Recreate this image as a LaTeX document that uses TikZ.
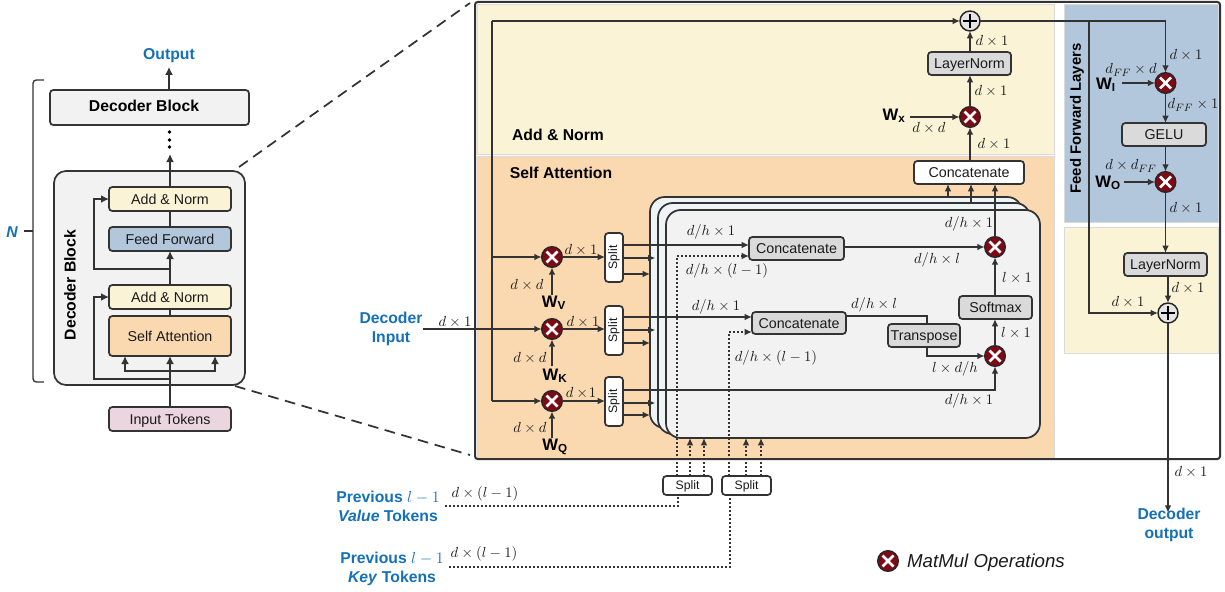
\documentclass[tikz,border=0pt]{standalone}
\usepackage[no-math]{fontspec}
\usepackage{graphicx}
\setmainfont{Liberation Sans}
\usetikzlibrary{arrows.meta,calc}
\definecolor{dk}{HTML}{333333}
\definecolor{tx}{HTML}{1A1A1A}
\definecolor{bluet}{HTML}{1470B8}
\definecolor{yel}{HTML}{FBF3D6}
\definecolor{ora}{HTML}{FAD8B0}
\definecolor{blu}{HTML}{B2C6DC}
\definecolor{pnk}{HTML}{EBD6DF}
\definecolor{lgr}{HTML}{F2F2F2}
\definecolor{mgr}{HTML}{DADADA}
\definecolor{crd}{HTML}{EEF3F5}
\definecolor{mar}{HTML}{7D0A14}
\newcommand{\fsA}{\fontsize{10.7}{12.8}\selectfont}
\newcommand{\fsB}{\fontsize{11.8}{14.2}\selectfont\bfseries}
\newcommand{\fsC}{\fontsize{9.2}{11}\selectfont}
\newcommand{\fsM}{\fontsize{10.95}{13}\selectfont}
\newcommand{\bx}[7]{\node[#1,minimum width={(#5-#3)*0.75pt},minimum height={(#6-#4)*0.75pt}] (#2) at ({(#3+#5)/2},{(#4+#6)/2}) {#7};}
\newcommand{\ml}[4]{\node[mlab] (#1) at (#2,#3) {$#4$};}
\newcommand{\wt}[4]{\node[wlab] (#1) at (#2,#3) {\textbf{W\textsubscript{#4}}};}
\tikzset{
 box/.style={draw=dk,line width=1.3pt,rounded corners=2.5pt,inner sep=0pt,outer sep=0pt,text=tx,font=\fsA,text height=7.7pt,text depth=0pt},
 panel/.style={draw=mgr,line width=0.5pt,inner sep=0pt,outer sep=0pt},
 card/.style={draw=dk,line width=1.3pt,rounded corners=11pt,inner sep=0pt,outer sep=0pt},
 mul/.style={circle,draw=black!85,fill=mar,line width=1pt,minimum size=15.5pt,inner sep=0pt,outer sep=0pt,
   path picture={\draw[white,line width=2.1pt] ([shift={(-5.5,-5.5)}]path picture bounding box.center) -- ([shift={(5.5,5.5)}]path picture bounding box.center);
     \draw[white,line width=2.1pt] ([shift={(-5.5,5.5)}]path picture bounding box.center) -- ([shift={(5.5,-5.5)}]path picture bounding box.center);}},
 plusn/.style={circle,draw=black!85,fill=mgr!70,line width=1.1pt,minimum size=15pt,inner sep=0pt,outer sep=0pt,
   path picture={\draw[black,line width=1.2pt] ([shift={(-7,0)}]path picture bounding box.center) -- ([shift={(7,0)}]path picture bounding box.center);
     \draw[black,line width=1.2pt] ([shift={(0,-7)}]path picture bounding box.center) -- ([shift={(0,7)}]path picture bounding box.center);}},
 mlab/.style={inner sep=0pt,text=tx,font=\fsM},
 wlab/.style={inner sep=0pt,text=black,font=\fontsize{12.5}{15}\selectfont},
 blab/.style={inner sep=0pt,text=bluet,font=\fsB,align=center},
 head/.style={inner sep=0pt,text=black,font=\fsB},
 ln/.style={draw=dk,line width=1.3pt},
 wr/.style={ln,-{Latex[length=5.5pt,width=5pt]}},
 tl/.style={draw=dk,line width=1.9pt},
 tr/.style={tl,-{Latex[length=6pt,width=6pt]}},
 dl/.style={draw=dk,line width=1.5pt,dash pattern=on 1.5pt off 1.5pt},
 dr/.style={dl,-{Latex[length=5.5pt,width=5pt]}},
 zoomline/.style={draw=dk,line width=1.3pt,dash pattern=on 8pt off 5pt},
}
\begin{document}
\begin{tikzpicture}[x=0.75pt,y=-0.75pt]
\useasboundingbox (0,0) rectangle (1225,592);
% ---------- left column
\node[blab] (out) at (169,55.5) {Output};
\bx{box,fill=lgr}{dtop}{50}{90}{249}{125}{}
\node[head] (dtl) at (144,105.5) {Decoder Block};
\bx{card,fill=lgr,rounded corners=9pt}{blk}{54}{171}{245}{385}{}
\node[head,rotate=90] (blkl) at (70,285) {Decoder Block};
\bx{box,fill=yel}{ana}{109}{187}{231}{211}{Add \& Norm}
\bx{box,fill=blu}{ffw}{109}{227}{231}{251}{Feed Forward}
\bx{box,fill=yel}{anb}{109}{285}{231}{309}{Add \& Norm}
\bx{box,fill=ora}{sat}{109}{316}{231}{356}{Self Attention}
\bx{box,fill=pnk}{inp}{109}{407}{231}{431}{Input Tokens}
\node[circle,fill=black,inner sep=0pt,minimum size=2.8pt] (da) at (169.5,132) {};
\node[circle,fill=black,inner sep=0pt,minimum size=2.8pt] (db) at (169.5,140) {};
\node[circle,fill=black,inner sep=0pt,minimum size=2.8pt] (dc) at (169.5,147) {};
\coordinate (dup) at (170,154);
\draw[tr] (inp.north) -- (sat.south);
\draw[tl] (sat.north) -- (anb.south);
\draw[tr] (anb.north) -- (ffw.south);
\draw[tl] (ffw.north) -- (ana.south);
\draw[tr] (ana.north) -- (dup);
\draw[tr] (dtop.north -| out.south) -- ([yshift=-3pt]out.south);
\draw[tr] (inp.north |- 0,379) -- (94,379) |- (anb.west);
\draw[tr] (inp.north |- 0,269) -- (94,269) |- (ana.west);
\draw[tr] (inp.north |- 0,371) -- (125,371) -- (sat.south -| 125,0);
\draw[tr] (inp.north |- 0,371) -- (215,371) -- (sat.south -| 215,0);
% bracket N
\node[inner sep=0pt,text=bluet,font=\fsB\itshape] (nn) at (12,232) {N};
\draw[line width=1pt,draw=dk,rounded corners=2.5pt] (44,80) -- (33,80) -- (33,382) -- (44,382);
\draw[line width=1pt,draw=dk] (24,231) -- (33,231);
% zoom lines
\coordinate (zua) at (239,167); \coordinate (zub) at (470,3);
\coordinate (zla) at (235,386); \coordinate (zlb) at (470,455);
\draw[zoomline] (zua) -- (zub);
\draw[zoomline] (zla) -- (zlb);
% ---------- main panels
\bx{panel,fill=yel}{pya}{477}{4}{1054}{154}{}
\bx{panel,fill=ora}{por}{477}{156}{1054}{458}{}
\bx{panel,fill=blu}{pbl}{1064}{4}{1218}{222}{}
\bx{panel,fill=yel}{pyb}{1064}{227}{1218}{353}{}
\bx{box,fill=none,rounded corners=2pt,line width=1.5pt}{mainb}{475}{2}{1220}{459}{}
\node[head] (hadd) at (558,135) {Add \& Norm};
\node[head] (hsel) at (561,172.5) {Self Attention};
\node[head,rotate=90,font=\fontsize{11.2}{13}\selectfont\bfseries] (hff) at (1077,118.5) {Feed Forward Layers};
% cards
\bx{card,fill=crd}{ca}{650}{197}{1022}{428}{}
\bx{card,fill=crd}{cb}{658}{203}{1030}{434}{}
\bx{card,fill=lgr}{cc}{666}{210}{1040}{438}{}
% mult
\node[mul] (mV) at (552,257) {};
\node[mul] (mK) at (552,329) {};
\node[mul] (mQ) at (552,401) {};
\node[mul] (mT) at (995,247) {};
\node[mul] (mL) at (995,356) {};
\node[mul] (mX) at (970,117) {};
\node[mul] (mI) at (1165.5,83) {};
\node[mul] (mO) at (1165.5,182) {};
\node[plusn] (pT) at (970,21) {};
\node[plusn] (pB) at (1168,313) {};
% boxes
\newcommand{\spl}{\rotatebox{90}{\fsC Split}}
\tikzset{boxr/.style={box,text height=,text depth=}}
\bx{boxr,fill=white}{sV}{605}{233}{623}{282}{\spl}
\bx{boxr,fill=white}{sK}{605}{306}{623}{355}{\spl}
\bx{boxr,fill=white}{sQ}{605}{377}{623}{426}{\spl}
\bx{box,fill=mgr}{cA}{749}{237}{844}{260}{Concatenate}
\bx{box,fill=mgr}{cB}{752}{312}{846}{334}{Concatenate}
\bx{box,fill=white}{cO}{914}{161}{1024}{184}{Concatenate}
\bx{box,fill=mgr}{sm}{959}{296}{1032}{319}{Softmax}
\bx{box,fill=mgr}{trp}{888}{324}{960}{347}{Transpose}
\bx{box,fill=mgr}{lnT}{928}{52}{1011}{75}{LayerNorm}
\bx{box,fill=mgr}{gel}{1122}{123}{1206}{146}{GELU}
\bx{box,fill=mgr}{lnR}{1124}{253}{1207}{276}{LayerNorm}
\bx{box,fill=white,font=\fsC,text height=6.6pt}{spA}{663}{476}{712}{495}{Split}
\bx{box,fill=white,font=\fsC,text height=6.6pt}{spB}{722}{476}{771}{495}{Split}
% W labels
\wt{wV}{554}{303}{V}
\wt{wK}{555}{376}{K}
\wt{wQ}{555}{447}{Q}
\wt{wX}{894}{116}{x}
\wt{wI}{1106}{85}{I}
\wt{wO}{1108}{183}{O}
% blue labels
\node[blab] (nIn) at (391,328.5) {Decoder\\Input};
\node[blab] (nOut) at (1169,524.5) {Decoder\\output};
\node[blab] (nVa) at (388,506) {Previous $l-1$\\\textit{Value} Tokens};
\node[blab] (nKe) at (392,568.5) {Previous $l-1$\\\textit{Key} Tokens};
% left wires
\coordinate (jT) at (492,21);
\draw[ln] (jT) -- (492,401);
\draw[wr] (jT) -- (pT.west);
\draw[wr] (492,257) -- (mV.west);
\draw[wr] (492,401) -- (mQ.west);
\draw[wr,line width=1.5pt] (nIn.east |- mK.west) -- (mK.west);
\draw[wr] (mV.east) -- (sV.west |- mV.east);
\draw[wr] (mK.east) -- (sK.west |- mK.east);
\draw[wr] (mQ.east) -- (sQ.west |- mQ.east);
\draw[wr,line width=1.5pt] (mV.south |- 0,295) -- (mV.south);
\draw[wr,line width=1.5pt] (mK.south |- 0,366) -- (mK.south);
\draw[wr,line width=1.5pt] (mQ.south |- 0,438) -- (mQ.south);
% split wires
\draw[wr] (sV.east |- 0,245) -- (cA.west |- 0,245);
\draw[wr] (sK.east |- 0,317) -- (cB.west |- 0,317);
\draw[wr,shorten >=2pt] (sV.east |- 0,258) -- (cb.west |- 0,258);
\draw[wr,shorten >=2pt] (sK.east |- 0,330) -- (cb.west |- 0,330);
\draw[wr,shorten >=2pt] (sQ.east |- 0,403) -- (cb.west |- 0,403);
\draw[wr] (sV.east |- 0,274) -- (ca.west |- 0,274);
\draw[wr] (sK.east |- 0,343) -- (ca.west |- 0,343);
\draw[wr] (sQ.east |- 0,415) -- (ca.west |- 0,415);
\draw[wr] (sQ.east |- 0,390) -| (mL.south);
% concat / softmax
\draw[wr] (cA.east |- mT.west) -- (mT.west);
\draw[ln] (cB.east |- 0,316) -- (927,316) -- (trp.north -| 927,0);
\draw[wr] (trp.south -| 927,0) -- (927,356) -- (mL.west);
\draw[wr] (mL.north) -- (sm.south -| mL.north);
\draw[wr] (sm.north -| mT.south) -- (mT.south);
\draw[wr] (mT.north) -- (cO.south -| mT.north);
\draw[wr] (ca.north -| 948,0) -- (cO.south -| 948,0);
\draw[wr] (cb.north -| 971,0) -- (cO.south -| 971,0);
% top column
\draw[wr] (cO.north -| mX.south) -- (mX.south);
\draw[wr] (mX.north) -- (lnT.south -| mX.north);
\draw[wr] (lnT.north -| pT.south) -- (pT.south);
\draw[wr] (mX.west -| 910,0) -- (mX.west);
% right column
\draw[wr] (pT.east) -| (mI.north);
\coordinate (jR) at (1089,21);
\draw[wr] (jR) |- (pB.west);
\draw[wr] (mI.south) -- (gel.north -| mI.south);
\draw[wr] (gel.south -| mO.north) -- (mO.north);
\draw[wr] (mO.south) -- (lnR.north -| mO.south);
\draw[wr] (lnR.south -| pB.north) -- (pB.north);
\draw[wr] (mI.west -| 1122,0) -- (mI.west);
\draw[wr] (mO.west -| 1124,0) -- (mO.west);
\draw[wr] (pB.south) -- ([yshift=-4pt]pB.south |- nOut.north);
% dotted
\draw[dl] (nVa.east |- 0,506) ++(5,0) -- (678,506) -- (678,495);
\draw[dl] (nKe.east |- 0,567) ++(5,0) -- (730,567) -- (730,495);
\draw[dr] (spA.north -| 677,0) -- (677,256) -- (cA.west |- 0,256);
\draw[dr] (spB.north -| 729,0) -- (729,332) -- (cB.west |- 0,332);
\draw[dr] (spA.north -| 690,0) -- (cc.south -| 690,0);
\draw[dr] (spA.north -| 704,0) -- (cc.south -| 704,0);
\draw[dr] (spB.north -| 746,0) -- (cc.south -| 746,0);
\draw[dr] (spB.north -| 761,0) -- (cc.south -| 761,0);
% math labels
\ml{a1}{581}{250}{d\times 1}
\ml{a2}{583}{322}{d\times 1}
\ml{a3}{581}{393}{d\times\! 1}
\ml{a4}{527}{285}{d\times d}
\ml{a5}{530}{358}{d\times d}
\ml{a6}{530}{428}{d\times d}
\ml{a7}{711}{232}{d/h\times 1}
\ml{a8}{716}{307}{d/h\times 1}
\ml{a9}{727}{271}{d/h\times(l-1)}
\ml{a10}{776}{358}{d/h\times(l-1)}
\ml{a11}{874}{305}{d/h\times l}
\ml{a12}{937}{260}{d/h\times l}
\ml{a13}{969}{224}{d/h\times 1}
\ml{a14}{1017}{278}{l\times 1}
\ml{a15}{1016}{333}{l\times 1}
\ml{a16}{955}{369}{l\times d/h}
\ml{a17}{969}{401}{d/h\times 1}
\ml{a18}{455}{322}{d\times 1}
\ml{a19}{992}{41}{d\times 1}
\ml{a20}{991}{91}{d\times 1}
\ml{a21}{929}{128}{d\times d}
\ml{a22}{994}{144}{d\times 1}
\ml{a23}{1186}{55}{d\times 1}
\ml{a24}{1131}{70}{d_{FF}\times d}
\ml{a25}{1193}{105}{d_{FF}\times 1}
\ml{a26}{1131}{166}{d\times d_{FF}}
\ml{a27}{1186}{208}{d\times 1}
\ml{a28}{1188}{288}{d\times 1}
\ml{a29}{1128}{302}{d\times 1}
\ml{a30}{1191}{472}{d\times 1}
\ml{a31}{485}{494}{d\times(l-1)}
\ml{a32}{484}{554}{d\times(l-1)}
% legend
\node[mul] (mLeg) at (888,561) {};
\node[inner sep=0pt,text=tx,font=\fontsize{14}{16}\selectfont\itshape] (tLeg) at (986,563) {MatMul Operations};
\end{tikzpicture}
\end{document}
